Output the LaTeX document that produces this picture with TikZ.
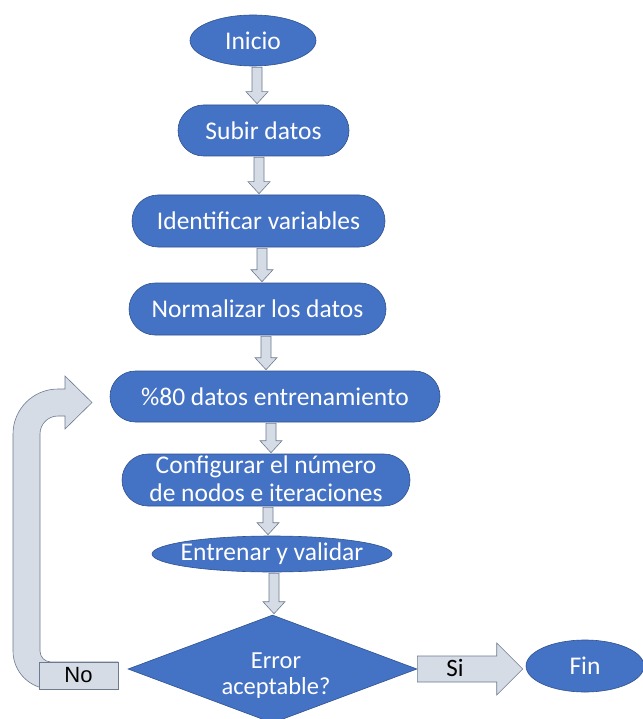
\documentclass[tikz,border=0pt]{standalone}
\usepackage{fontspec}
\setmainfont{Carlito}
\newfontfamily\arialf{Liberation Sans}
\usetikzlibrary{shapes.geometric,calc}
\definecolor{boxblue}{HTML}{4472C4}
\definecolor{boxedge}{HTML}{2F528F}
\definecolor{arrfill}{HTML}{D6DCE5}
\definecolor{arredge}{HTML}{6D7B91}
\newcommand{\dnarrow}[3]{%
  \draw[blockarrow] let \p1=(#2.south), \p2=(#3.north) in
    (#1pt-5pt,\y1-1pt) -- (#1pt+5pt,\y1-1pt) -- (#1pt+5pt,\y2+13pt) --
    (#1pt+11pt,\y2+13pt) -- (#1pt,\y2+1pt) -- (#1pt-11pt,\y2+13pt) --
    (#1pt-5pt,\y2+13pt) -- cycle;}
\begin{document}
\begin{tikzpicture}[x=1pt,y=1pt,
  flow/.style={fill=boxblue,draw=boxedge,line width=0.6pt,inner sep=0pt},
  term/.style={flow,ellipse},
  pill/.style={flow,rectangle,rounded corners=#1},
  txtw/.style={text=white,font=\fontsize{25.5}{28}\selectfont,align=center,inner sep=0pt},
  blockarrow/.style={fill=arrfill,draw=arredge,line width=0.6pt,line join=miter}]
\fill[white] (0,0) rectangle (642,-719);
\useasboundingbox (0,0) rectangle (642,-719);

% shapes
\node[term,minimum width=126pt,minimum height=51pt] (inicio) at (253,-40.5) {};
\node[txtw] (tinicio) at (inicio) {Inicio};
\node[pill=25.5pt,minimum width=171pt,minimum height=51pt] (subir) at (263.5,-130.5) {};
\node[txtw] (tsubir) at (subir) {Subir datos};
\node[pill=26pt,minimum width=253pt,minimum height=52pt] (ident) at (258.5,-221) {};
\node[txtw] (tident) at (ident) {Identificar variables};
\node[pill=26pt,minimum width=257pt,minimum height=52pt] (norm) at (257.5,-309) {};
\node[txtw] (tnorm) at (norm) {Normalizar los datos};
\node[pill=25.5pt,minimum width=330pt,minimum height=51pt] (ochenta) at (275,-396.5) {};
\node[txtw] (tochenta) at (ochenta) {\%80 datos entrenamiento};
\node[pill=26pt,minimum width=288pt,minimum height=52pt] (config) at (266,-480) {};
\node[txtw] (tconfig) at (266,-479) {Configurar el número\\de nodos e iteraciones};
\node[term,minimum width=240pt,minimum height=36pt] (entr) at (272,-554) {};
\node[txtw] (tentr) at (entr) {Entrenar y validar};
\node[flow,diamond,minimum width=289pt,minimum height=108pt] (dia) at (272.5,-669) {};
\node[txtw,font=\fontsize{24.5}{26}\selectfont] (tdia) at (276,-676) {Error\\aceptable?};
\node[term,minimum width=118pt,minimum height=52pt] (fin) at (585,-666) {};
\node[txtw] (tfin) at (fin) {Fin};

% vertical block arrows
\dnarrow{257}{inicio}{subir}
\dnarrow{259}{subir}{ident}
\dnarrow{262}{ident}{norm}
\dnarrow{266}{norm}{ochenta}
\dnarrow{271}{ochenta}{config}
\dnarrow{268}{config}{entr}
\dnarrow{274}{entr}{dia}

% Si arrow
\draw[blockarrow] let \p1=(dia.east), \p2=(fin.west) in
  (\x1,\y1+13pt) -- (\x2-29pt,\y1+13pt) -- (\x2-29pt,\y1+26pt) -- (\x2-3pt,\y1) --
  (\x2-29pt,\y1-26pt) -- (\x2-29pt,\y1-13pt) -- (\x1,\y1-13pt) -- cycle;
\node[text=black,font=\fontsize{25}{29}\selectfont,inner sep=0pt] (si) at (455,-668) {Si};

% No loop arrow
\draw[blockarrow] (118,-689) -- (51,-689) arc[start angle=-90,end angle=-180,radius=38]
  -- (13,-434) arc[start angle=180,end angle=90,radius=45]
  -- (65,-389) -- (65,-376) -- (92,-402.5) -- (65,-429) -- (65,-416) -- (58,-416)
  arc[start angle=90,end angle=180,radius=18]
  -- (40,-651) arc[start angle=180,end angle=270,radius=11]
  -- (118,-662) -- cycle;
\node[draw=arredge,fill=arrfill,line width=0.6pt,minimum width=79pt,minimum height=27pt,inner sep=0pt,
  font=\arialf\fontsize{22}{26}\selectfont] (no) at (78.5,-675.5) {No};
\end{tikzpicture}
\end{document}
